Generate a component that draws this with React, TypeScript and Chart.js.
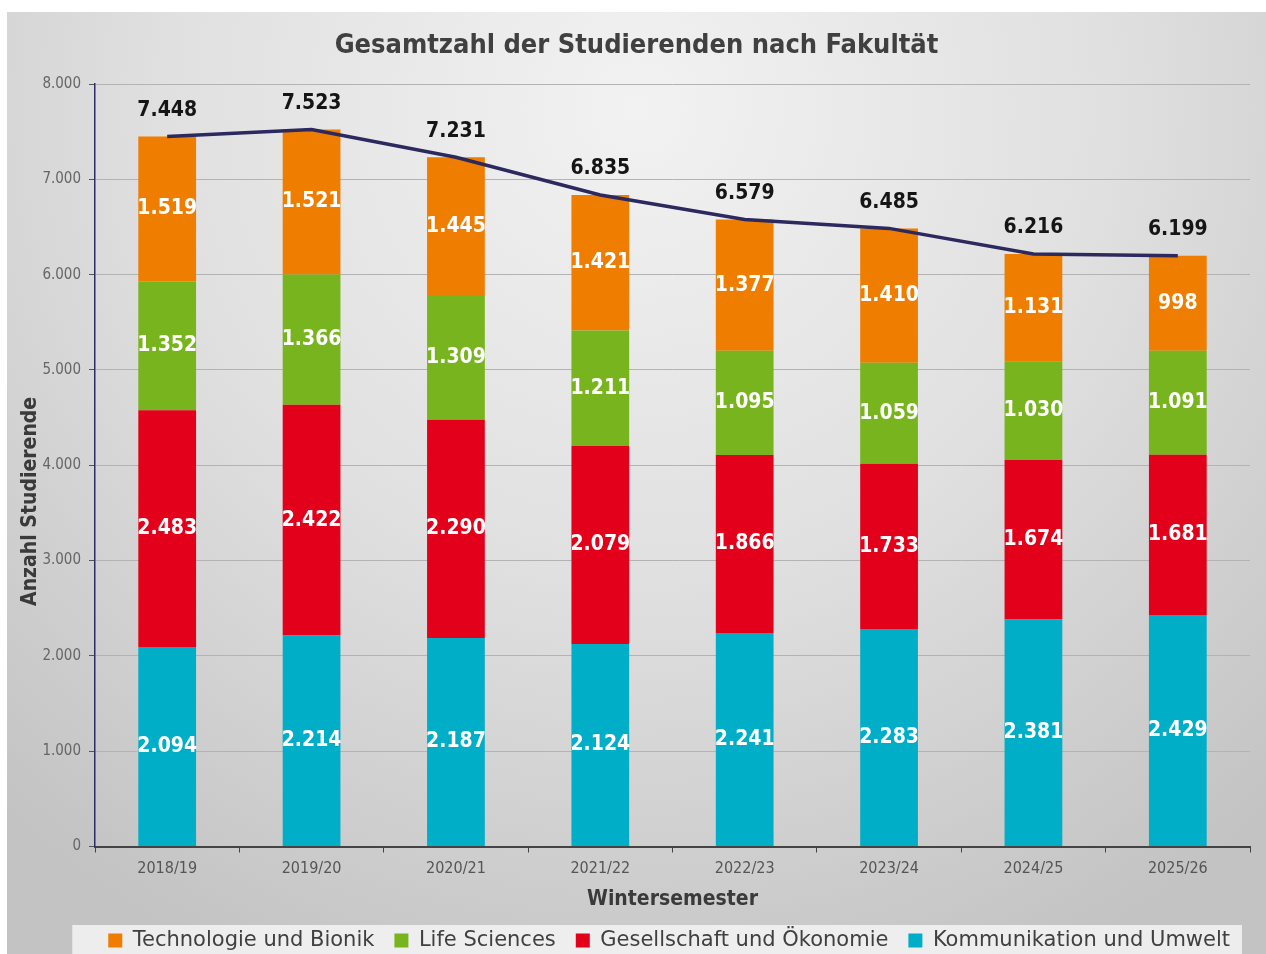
import React, { useEffect, useRef } from "react";
import { Chart, registerables } from "chart.js";

Chart.register(...registerables);

const categories = ["2018/19", "2019/20", "2020/21", "2021/22", "2022/23", "2023/24", "2024/25", "2025/26"];
const kommunikation = [2094, 2214, 2187, 2124, 2241, 2283, 2381, 2429];
const gesellschaft = [2483, 2422, 2290, 2079, 1866, 1733, 1674, 1681];
const lifeSciences = [1352, 1366, 1309, 1211, 1095, 1059, 1030, 1091];
const technologie = [1519, 1521, 1445, 1421, 1377, 1410, 1131, 998];
const totals = [7448, 7523, 7231, 6835, 6579, 6485, 6216, 6199];

const seriesNames = ["Kommunikation und Umwelt", "Gesellschaft und Ökonomie", "Life Sciences", "Technologie und Bionik"];
const seriesColors = ["#00aec8", "#e2001a", "#78b41e", "#ee7d00"];

const FONT = "'DejaVu Sans Condensed', 'Liberation Sans Narrow', 'DejaVu Sans', sans-serif";
const WIDE_FONT = "'DejaVu Sans', sans-serif";

const fmt = (n: number) => String(n).replace(/\B(?=(\d{3})+(?!\d))/g, ".");

const bgPlugin = {
  id: "bgPlugin",
  beforeDraw(chart: any) {
    const { ctx, width, height } = chart;
    ctx.save();
    const g = ctx.createRadialGradient(width * 0.5, height * 0.1, 0, width * 0.5, height * 0.1, width * 0.75);
    g.addColorStop(0, "#f2f2f2");
    g.addColorStop(0.5, "#e0e0e0");
    g.addColorStop(1, "#c3c3c3");
    ctx.fillStyle = g;
    ctx.fillRect(0, 0, width, height);
    const lg = chart.legend;
    if (lg && lg.legendHitBoxes && lg.legendHitBoxes.length) {
      const hb = lg.legendHitBoxes;
      const first = hb[0];
      const last = hb[hb.length - 1];
      ctx.fillStyle = "rgba(242,242,242,0.9)";
      ctx.fillRect(first.left - 36, first.top - 5, last.left + last.width - first.left + 48, height);
    }
    ctx.restore();
  },
};

const labelPlugin = {
  id: "labelPlugin",
  afterDatasetsDraw(chart: any) {
    const { ctx } = chart;
    ctx.save();
    ctx.textAlign = "center";
    ctx.textBaseline = "middle";
    chart.data.datasets.forEach((ds: any, i: number) => {
      const meta = chart.getDatasetMeta(i);
      if (meta.hidden) return;
      meta.data.forEach((el: any, j: number) => {
        const v = ds.data[j];
        ctx.font = `bold 21px ${FONT}`;
        if (ds.type === "line") {
          ctx.fillStyle = "#151515";
          ctx.fillText(fmt(v), el.x, el.y - 26);
        } else {
          ctx.fillStyle = "#ffffff";
          ctx.fillText(fmt(v), el.x, (el.y + el.base) / 2);
        }
      });
    });
    ctx.restore();
  },
};

const PAD = "\u00A0".repeat(11);

export default function App() {
  const ref = useRef<HTMLCanvasElement | null>(null);
  useEffect(() => {
    if (!ref.current) return;
    const barSets = [kommunikation, gesellschaft, lifeSciences, technologie].map((d, i) => ({
      type: "bar" as const,
      label: seriesNames[i],
      data: d,
      backgroundColor: seriesColors[i],
      borderWidth: 0,
      stack: "s",
      order: 1,
      barPercentage: 0.4,
      categoryPercentage: 1,
    }));
    const chart = new Chart(ref.current, {
      type: "bar",
      data: {
        labels: categories,
        datasets: [
          ...barSets,
          {
            type: "line" as const,
            label: "Gesamt",
            data: totals,
            borderColor: "#2b295e",
            backgroundColor: "#2b295e",
            borderWidth: 3.5,
            pointRadius: 0,
            tension: 0,
            stack: "total",
            order: 0,
          } as any,
        ],
      },
      options: {
        responsive: false,
        animation: false,
        layout: { padding: { left: 16, right: 16, top: 0, bottom: 0 } },
        plugins: {
          tooltip: { enabled: false },
          title: {
            display: true,
            text: "Gesamtzahl der Studierenden nach Fakultät",
            color: "#404040",
            font: { family: FONT, size: 27, weight: "bold", lineHeight: 1.2 },
            padding: { top: 18, bottom: 21.6 },
          },
          legend: {
            position: "bottom",
            align: "end",
            reverse: true,
            labels: {
              filter: (item: any) => item.datasetIndex < 4,
              boxWidth: 14,
              boxHeight: 14,
              padding: 20,
              color: "#404040",
              font: { family: WIDE_FONT, size: 21 },
            },
          },
        },
        scales: {
          x: {
            stacked: true,
            border: { color: "#444444", width: 2 },
            grid: { display: true, drawOnChartArea: false, drawTicks: true, tickLength: 6, tickColor: "#444444", offset: true },
            ticks: { color: "#555555", padding: 7, font: { family: FONT, size: 16 } },
            title: {
              display: true,
              text: "Wintersemester",
              color: "#3a3a3a",
              font: { family: FONT, size: 21, weight: "bold", lineHeight: 1 },
              padding: { top: 0, bottom: 0 },
            },
            afterFit: (s: any) => {
              s.height = 63.5;
            },
          },
          y: {
            stacked: true,
            min: 0,
            max: 8000,
            border: { color: "#2e2b6b", width: 1.5 },
            grid: { color: "#b3b3b3", lineWidth: 1, tickLength: 6, tickColor: "#555555" },
            ticks: {
              stepSize: 1000,
              color: "#666666",
              padding: 8,
              font: { family: FONT, size: 15 },
              callback: (v: any) => fmt(Number(v)),
            },
            title: {
              display: true,
              text: "Anzahl Studierende" + PAD,
              color: "#3a3a3a",
              font: { family: FONT, size: 21, weight: "bold", lineHeight: 0.7 },
              padding: { top: 0, bottom: 0 },
            },
            afterFit: (s: any) => {
              s.width = 72;
            },
          },
        },
      },
      plugins: [bgPlugin, labelPlugin],
    } as any);
    return () => chart.destroy();
  }, []);
  return (
    <div style={{ position: "fixed", left: 7, top: 12, width: 1259, height: 949 }}>
      <canvas ref={ref} width={1259} height={949} style={{ width: 1259, height: 949, display: "block" }} />
    </div>
  );
}
